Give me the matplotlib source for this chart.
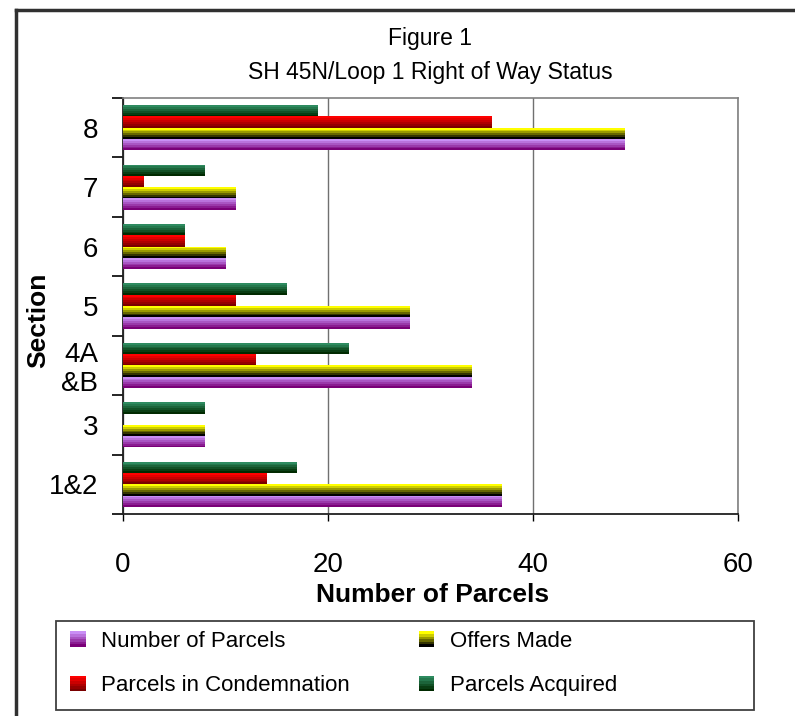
import numpy as np
import matplotlib.pyplot as plt
from matplotlib.colors import to_rgb
from matplotlib.legend_handler import HandlerBase
from matplotlib.patches import Rectangle
from matplotlib.lines import Line2D

plt.rcParams['font.family'] = ['Liberation Sans', 'DejaVu Sans']

# data
sections = ['1&2', '3', '4A\n&B', '5', '6', '7', '8']
number_of_parcels = [37, 8, 34, 28, 10, 11, 49]
offers_made = [37, 8, 34, 28, 10, 11, 49]
in_condemnation = [14, 0, 13, 11, 6, 2, 36]
acquired = [17, 8, 22, 16, 6, 8, 19]

series = [
    ('Number of Parcels', number_of_parcels, '#c98ef5', '#7a0078'),
    ('Offers Made', offers_made, '#ffff00', '#000000'),
    ('Parcels in Condemnation', in_condemnation, '#ff0000', '#7a0000'),
    ('Parcels Acquired', acquired, '#2e8b60', '#002a00'),
]

NSTRIPE = 6


def stripe_colors(top, bottom, n=NSTRIPE):
    a, b = np.array(to_rgb(top)), np.array(to_rgb(bottom))
    return [tuple(a + (b - a) * i / (n - 1)) for i in range(n)]


class GradientHandler(HandlerBase):
    def __init__(self, top, bottom):
        super().__init__()
        self.top, self.bottom = top, bottom

    def create_artists(self, legend, orig_handle, xdescent, ydescent,
                       width, height, fontsize, trans):
        s = width
        cols = stripe_colors(self.top, self.bottom)
        arts = []
        h = s / len(cols)
        for i, c in enumerate(cols):
            arts.append(Rectangle((0, -ydescent + s - (i + 1) * h), s, h,
                                  facecolor=c, edgecolor='none', transform=trans))
        return arts


fig = plt.figure(figsize=(7.95, 7.16), dpi=100)
ax = fig.add_axes([123 / 795, 1 - 514 / 716, 615 / 795, 416 / 716])

y = np.arange(len(sections))
bh = 0.19
for k, (name, vals, top, bottom) in enumerate(series):
    centers = y + (k - 1.5) * bh
    cols = stripe_colors(top, bottom)
    sh = bh / len(cols)
    for i, c in enumerate(cols):
        # stripe i counted from the top edge of the bar
        ax.barh(centers + bh / 2 - (i + 0.5) * sh, vals, height=sh,
                color=c, edgecolor='none', zorder=3)

ax.set_xlim(0, 60)
ax.set_ylim(-0.5, len(sections) - 0.5)
ax.set_xticks([0, 20, 40, 60])
ax.set_yticks(y)
ax.set_yticklabels(sections, linespacing=1.15)
ax.set_yticks(np.arange(-0.5, len(sections)), minor=True)
ax.tick_params(axis='y', which='major', length=0, labelsize=20, pad=18)
ax.tick_params(axis='y', which='minor', length=8, width=1.2, direction='out')
ax.tick_params(axis='x', length=5, width=1, labelsize=20, pad=22)
ax.xaxis.grid(True, color='#707070', lw=1)
ax.set_axisbelow(True)

for side in ['top', 'right']:
    ax.spines[side].set_color('#808080')
    ax.spines[side].set_linewidth(1.2)
for side in ['left', 'bottom']:
    ax.spines[side].set_color('#202020')
    ax.spines[side].set_linewidth(1.3)

fig.text(433 / 795, 1 - 595 / 716, 'Number of Parcels', fontsize=19,
         fontweight='bold', ha='center', va='center')
fig.text(38 / 795, 1 - 320 / 716, 'Section', rotation=90, fontsize=19,
         fontweight='bold', ha='center', va='center')

fig.text(430 / 795, 1 - 38 / 716, 'Figure 1', fontsize=16.5, ha='center', va='center')
fig.text(430 / 795, 1 - 73 / 716, 'SH 45N/Loop 1 Right of Way Status',
         fontsize=16.5, ha='center', va='center')

# legend box
fig.add_artist(Rectangle((56 / 795, 1 - 710 / 716), 698 / 795, 89 / 716,
                         transform=fig.transFigure, facecolor='none',
                         edgecolor='#404040', lw=1.3))
handles = [Rectangle((0, 0), 1, 1) for _ in series]
order = [0, 2, 1, 3]
hmap = {handles[i]: GradientHandler(series[i][2], series[i][3]) for i in range(4)}
leg = fig.legend([handles[i] for i in order], [series[i][0] for i in order],
                 handler_map=hmap, ncol=2, loc='upper left',
                 bbox_to_anchor=(70 / 795, 1 - 631 / 716),
                 fontsize=16, frameon=False, borderaxespad=0, borderpad=0,
                 handlelength=0.7, handleheight=0.7, handletextpad=0.7,
                 labelspacing=1.05, columnspacing=3.1)

# outer frame of the figure (left and top edges visible)
fig.add_artist(Line2D([16 / 795, 16 / 795], [0, 1 - 10 / 716], color='#303030', lw=2.5))
fig.add_artist(Line2D([16 / 795, 1], [1 - 10 / 716, 1 - 10 / 716], color='#303030', lw=2.5))

fig.savefig('out.png', dpi=100)
